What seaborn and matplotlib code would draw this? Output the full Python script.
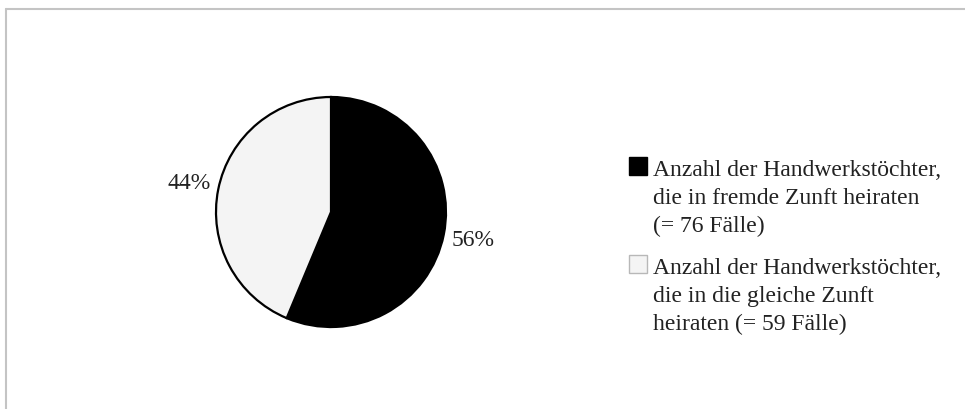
import matplotlib
matplotlib.use("Agg")
import matplotlib.pyplot as plt
from matplotlib.patches import Rectangle
from matplotlib.lines import Line2D
import seaborn as sns

# Data
categories = [
    "Anzahl der Handwerkstöchter,\ndie in fremde Zunft heiraten\n(= 76 Fälle)",
    "Anzahl der Handwerkstöchter,\ndie in die gleiche Zunft\nheiraten (= 59 Fälle)",
]
values = [76, 59]
colors = ["#000000", "#f4f4f4"]
legend_edges = ["#000000", "#b8b8b8"]

sns.set_theme(style="white")
plt.rcParams["font.family"] = ["Liberation Serif", "DejaVu Serif"]

W, H = 965, 409
fig = plt.figure(figsize=(W / 100, H / 100), dpi=100)
fig.patch.set_facecolor("white")

# pie axes: centre (331, 212) px, radius 115 px
cx, cy, r = 331, 212, 115
ax = fig.add_axes([(cx - r) / W, (H - cy - r) / H, 2 * r / W, 2 * r / H])
wedges, texts, autotexts = ax.pie(
    values,
    colors=colors,
    startangle=90,
    counterclock=False,
    autopct="%1.0f%%",
    pctdistance=1.26,
    wedgeprops=dict(edgecolor="black", linewidth=1.6),
    textprops=dict(fontsize=17, color="#222222"),
)
ax.set_xlim(-1.0, 1.0)
ax.set_ylim(-1.0, 1.0)
ax.set_aspect("auto")
ax.axis("off")
for t in autotexts:
    t.set_clip_on(False)

# legend drawn manually to match layout
sq = 18
entry_tops = [157, 255]
line_px = 29
for lab, col, ec, top in zip(categories, colors, legend_edges, entry_tops):
    fig.add_artist(Rectangle((629 / W, (H - top - sq) / H), sq / W, sq / H,
                             transform=fig.transFigure, facecolor=col,
                             edgecolor=ec, linewidth=1.0))
    nlines = lab.count("\n")
    last_baseline = top + 17 + nlines * line_px
    fig.text(653 / W, (H - last_baseline) / H, lab, fontsize=17, color="#222222",
             va="baseline", ha="left", linespacing=1.42)

# light grey frame (top and left edges)
fig.add_artist(Line2D([6 / W, 1.0], [(H - 9) / H, (H - 9) / H],
                      transform=fig.transFigure, color="#c4c4c4", linewidth=1.5))
fig.add_artist(Line2D([6 / W, 6 / W], [0, (H - 9) / H],
                      transform=fig.transFigure, color="#c4c4c4", linewidth=1.5))

fig.savefig("out.png", dpi=100)
